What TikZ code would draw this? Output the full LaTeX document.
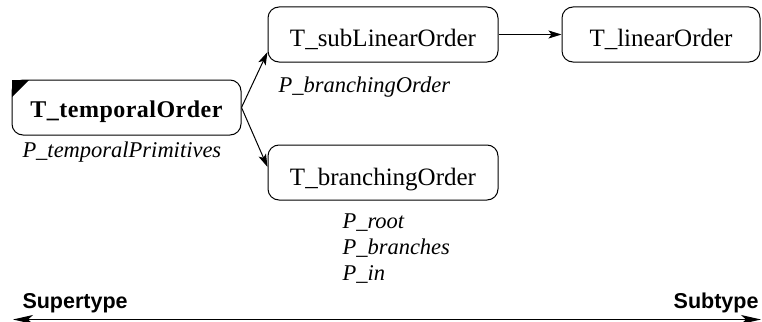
\documentclass[tikz,border=0pt]{standalone}
\usepackage{fontspec}
\setmainfont{Liberation Serif}
\setsansfont{Liberation Sans}
\usetikzlibrary{arrows.meta}
\begin{document}
\begin{tikzpicture}[x=1pt,y=-1pt, line width=1pt,
  box/.style={draw, rounded corners=11pt, inner sep=0pt, minimum height=55pt,
    font=\fontsize{25}{30}\selectfont, text height=25pt, text depth=0pt},
  lbl/.style={inner sep=0pt, anchor=base west, font=\fontsize{22.5}{27}\selectfont\itshape},
  side/.style={inner sep=0pt, font=\sffamily\bfseries\fontsize{21.5}{26}\selectfont},
  arr/.style={-{Stealth[length=13pt,width=8pt,inset=3pt]}},
  axisline/.style={{Stealth[length=20pt,width=9pt,inset=5pt]}-{Stealth[length=20pt,width=9pt,inset=5pt]}, line width=1.1pt}]
\useasboundingbox (0,0) rectangle (762,321);
% boxes
\node[box, minimum width=229pt, text height=19pt,
  font=\fontsize{24}{29}\selectfont\bfseries\addfontfeatures{LetterSpace=2}] (tmp) at (126.5,107.5) {T\_temporalOrder};
\fill (12,80) -- (29,80) -- (12,97) -- cycle;
\node[box, minimum width=230pt] (sub) at (383,34.5) {T\_subLinearOrder};
\node[box, minimum width=198pt] (lin) at (661,34.5) {T\_linearOrder};
\node[box, minimum width=230pt] (br) at (383,172.5) {T\_branchingOrder};
% labels
\node[lbl] (ptp) at (22,157) {P\_temporalPrimitives};
\node[lbl] (pbo) at (278,92) {P\_branchingOrder};
\node[lbl] (pro) at (342,228) {P\_root};
\node[lbl] (pbr) at (342,254) {P\_branches};
\node[lbl] (pin) at (342,280) {P\_in};
% connectors
\draw[arr] (tmp.east) -- ([yshift=-17.5pt]sub.west);
\draw[arr] (tmp.east) -- ([yshift=5.5pt]br.west);
\draw[arr] (sub.east) -- (lin.west);
% axis
\node[side, anchor=base west] (sup) at (22,308) {Supertype};
\node[side, anchor=base east] (subt) at (759,308) {Subtype};
\coordinate (L) at (13,319.5);
\coordinate (R) at (761,319.5);
\draw[axisline] (L) -- (R);
\end{tikzpicture}
\end{document}
